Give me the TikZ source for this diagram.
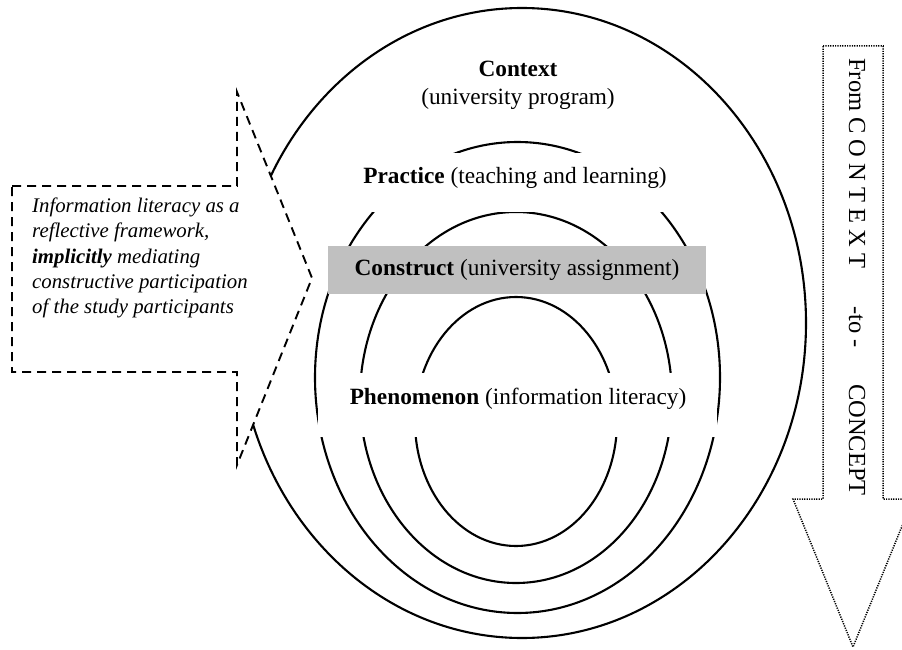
\documentclass[tikz,border=0pt]{standalone}
\usepackage{fontspec}
\setmainfont{Liberation Serif}
\usetikzlibrary{arrows}
\tikzset{>=stealth}
\definecolor{boxgray}{RGB}{192,192,192}
\newcommand{\ringfont}{\fontsize{23.3}{28}\selectfont}
\newcommand{\notefont}{\fontsize{20.8}{25.2}\selectfont\itshape}
\newcommand{\sidefont}{\fontsize{24.5}{28}\selectfont}
\tikzset{ring/.style={draw,line width=2.1pt}}
\tikzset{mask/.style={fill=white,inner sep=0pt}}
\tikzset{lbl/.style={font=\ringfont,inner sep=0pt}}
\tikzset{dasharr/.style={draw,fill=white,line width=1.9pt,dash pattern=on 9pt off 6pt}}
\tikzset{dotarr/.style={draw,fill=white,line width=1.5pt,dash pattern=on 1.2pt off 1.2pt}}

\begin{document}
\begin{tikzpicture}[x=1pt,y=-1pt]
    \useasboundingbox (0,0) rectangle (902,650);
    % rings, outermost first
    \draw[ring] (522,323) ellipse [x radius=284,y radius=315];
    \draw[ring] (517.5,377.5) ellipse [x radius=202.5,y radius=235.5];
    \draw[ring] (516,397.5) ellipse [x radius=156,y radius=185.5];
    \draw[ring] (516,421.5) ellipse [x radius=101,y radius=124.5];
    % labels of the rings
    \node[lbl,align=center] (context) at (518,85) {\textbf{Context}\\(university program)};
    \node[mask,minimum width=316pt,minimum height=59pt] (practice bg) at (515,182.5) {};
    \node[lbl] (practice) at (515,178) {\textbf{Practice} (teaching and learning)};
    \node[lbl,fill=boxgray,minimum width=378pt,minimum height=48pt] (construct) at (517,270) {\textbf{Construct} (university assignment)};
    \node[mask,minimum width=399pt,minimum height=64pt] (phenomenon bg) at (517.5,405) {};
    \node[lbl] (phenomenon) at (518,399) {\textbf{Phenomenon} (information literacy)};
    % left arrow
    \draw[dasharr] (12,186) -- (237,186) -- (237,92) -- (312,278) -- (237,465) -- (237,372) -- (12,372) -- cycle;
    \node[font=\notefont,align=left,anchor=west,inner sep=0pt] (framework) at (32,258)
      {Information literacy as a\\reflective framework,\\\textbf{implicitly} mediating\\constructive participation\\of the study participants};
    % right arrow
    \draw[dotarr] (823,46) -- (883,46) -- (883,499) -- (913,499) -- (853,647) -- (793,499) -- (823,499) -- cycle;
    \node[font=\sidefont,rotate=-90,inner sep=0pt] (direction) at (857,277)
      {From C O N T E X T\hspace{38pt}-to -\hspace{36pt}CONCEPT};
\end{tikzpicture}
\end{document}
